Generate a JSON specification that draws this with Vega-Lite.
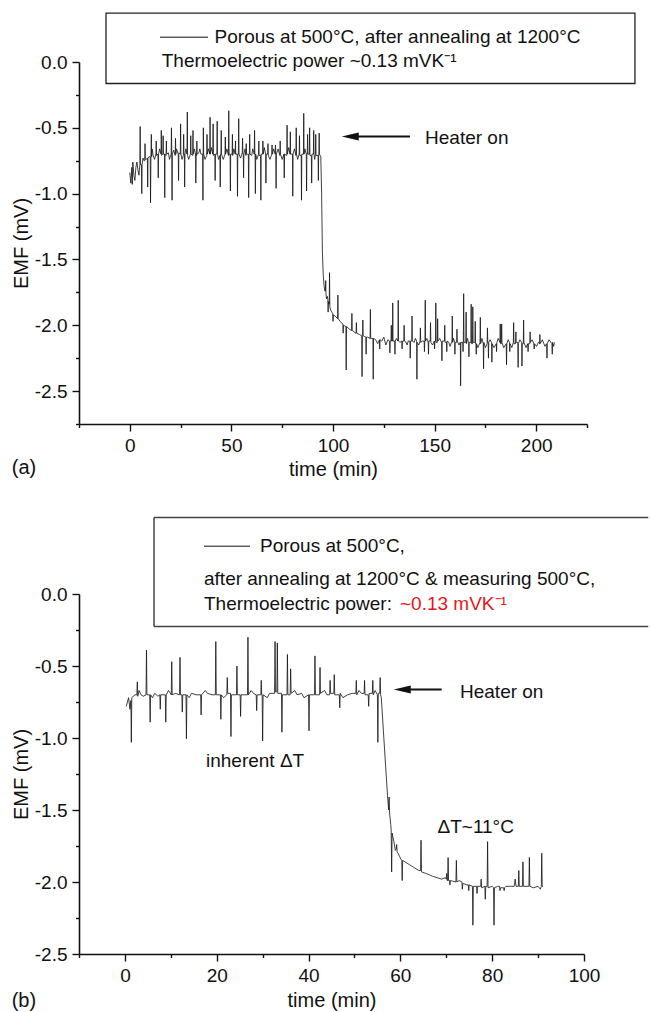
{
"$schema": "https://vega.github.io/schema/vega-lite/v6.json",
"background": "white",
"padding": {"left": 11, "top": 12, "right": 0, "bottom": 0},
"bounds": "flush",
"spacing": 170,
"config": {
  "view": {"stroke": null},
  "font": "Liberation Sans",
  "axis": {"grid": false, "domainColor": "#111", "domainWidth": 1.6, "tickColor": "#111", "tickWidth": 1.4,
           "labelFont": "Liberation Sans", "labelFontSize": 19, "labelColor": "#111", "labelOverlap": false,
           "titleFont": "Liberation Sans", "titleFontSize": 20, "titleFontWeight": "normal", "titleColor": "#111"},
  "text": {"font": "Liberation Sans", "fontSize": 19, "color": "#111", "align": "left", "baseline": "middle"}
},
"datasets": {
"a": [
{"t":0,"v":-0.84},{"t":0.5,"v":-0.92},{"t":1,"v":-0.80},{"t":1.2,"v":-0.93},{"t":1.5,"v":-0.76},{"t":2,"v":-0.86},{"t":2.5,"v":-0.90},{"t":3,"v":-0.80},{"t":3.5,"v":-0.76},{"t":4,"v":-0.82},{"t":4.5,"v":-0.86},{"t":4.95,"v":-0.78},{"t":5.1,"v":-0.49},{"t":5.25,"v":-0.78},{"t":5.75,"v":-0.78},{"t":5.9,"v":-1.00},{"t":6.05,"v":-0.78},{"t":6.5,"v":-0.73},{"t":7,"v":-0.75},{"t":7.35,"v":-0.75},{"t":7.5,"v":-0.62},{"t":7.65,"v":-0.74},{"t":8,"v":-0.74},{"t":8.65,"v":-0.73},{"t":8.8,"v":-0.95},{"t":8.95,"v":-0.73},{"t":9.5,"v":-0.72},{"t":10.05,"v":-0.72},{"t":10.2,"v":-1.07},{"t":10.4,"v":-0.72},{"t":10.6,"v":-0.55},{"t":10.75,"v":-0.72},{"t":11,"v":-0.66},{"t":11.5,"v":-0.71},{"t":12.2,"v":-0.74},{"t":12.85,"v":-0.70},{"t":13,"v":-0.60},{"t":13.15,"v":-0.71},{"t":13.85,"v":-0.70},{"t":14,"v":-0.88},{"t":14.15,"v":-0.70},{"t":14.7,"v":-0.66},{"t":15.35,"v":-0.70},{"t":15.5,"v":-0.52},{"t":15.65,"v":-0.71},{"t":16.25,"v":-0.70},{"t":16.4,"v":-0.56},{"t":16.55,"v":-0.70},{"t":17.05,"v":-0.70},{"t":17.2,"v":-1.03},{"t":17.35,"v":-0.70},{"t":17.85,"v":-0.71},{"t":18,"v":-0.60},{"t":18.15,"v":-0.70},{"t":19,"v":-0.69},{"t":19.5,"v":-0.74},{"t":20.35,"v":-0.70},{"t":20.5,"v":-0.50},{"t":20.65,"v":-0.70},{"t":20.8,"v":-1.05},{"t":20.95,"v":-0.70},{"t":21.6,"v":-0.67},{"t":22.35,"v":-0.71},{"t":22.5,"v":-0.58},{"t":22.65,"v":-0.70},{"t":23,"v":-0.66},{"t":23.85,"v":-0.70},{"t":24,"v":-0.90},{"t":24.15,"v":-0.69},{"t":24.85,"v":-0.70},{"t":25,"v":-0.47},{"t":25.15,"v":-0.70},{"t":25.7,"v":-0.74},{"t":26.35,"v":-0.71},{"t":26.5,"v":-0.55},{"t":26.65,"v":-0.70},{"t":26.85,"v":-0.70},{"t":27,"v":-0.95},{"t":27.15,"v":-0.70},{"t":27.6,"v":-0.66},{"t":28.15,"v":-0.70},{"t":28.3,"v":-0.38},{"t":28.45,"v":-0.71},{"t":29,"v":-0.74},{"t":29.85,"v":-0.70},{"t":30,"v":-0.56},{"t":30.15,"v":-0.70},{"t":30.95,"v":-0.71},{"t":31.1,"v":-0.52},{"t":31.25,"v":-0.70},{"t":31.8,"v":-0.66},{"t":32.35,"v":-0.70},{"t":32.5,"v":-0.92},{"t":32.65,"v":-0.70},{"t":32.85,"v":-0.71},{"t":33,"v":-0.60},{"t":33.15,"v":-0.70},{"t":34,"v":-0.69},{"t":34.5,"v":-0.66},{"t":35,"v":-0.70},{"t":35.85,"v":-0.70},{"t":36,"v":-1.05},{"t":36.1,"v":-0.70},{"t":36.2,"v":-0.50},{"t":36.35,"v":-0.70},{"t":37,"v":-0.74},{"t":37.85,"v":-0.71},{"t":38,"v":-0.55},{"t":38.15,"v":-0.70},{"t":38.7,"v":-0.66},{"t":39.35,"v":-0.70},{"t":39.5,"v":-0.42},{"t":39.65,"v":-0.70},{"t":40.2,"v":-0.65},{"t":40.85,"v":-0.70},{"t":41,"v":-0.47},{"t":41.15,"v":-0.71},{"t":41.85,"v":-0.70},{"t":42,"v":-0.90},{"t":42.15,"v":-0.70},{"t":42.85,"v":-0.70},{"t":43,"v":-0.45},{"t":43.15,"v":-0.70},{"t":43.7,"v":-0.74},{"t":44.35,"v":-0.71},{"t":44.5,"v":-0.95},{"t":44.65,"v":-0.70},{"t":44.85,"v":-0.70},{"t":45,"v":-0.52},{"t":45.15,"v":-0.70},{"t":46,"v":-0.74},{"t":46.85,"v":-0.70},{"t":47,"v":-0.57},{"t":47.15,"v":-0.70},{"t":47.8,"v":-0.66},{"t":48.55,"v":-0.71},{"t":48.7,"v":-0.37},{"t":48.85,"v":-0.70},{"t":49.35,"v":-0.70},{"t":49.5,"v":-0.98},{"t":49.65,"v":-0.70},{"t":50.35,"v":-0.70},{"t":50.5,"v":-0.55},{"t":50.65,"v":-0.71},{"t":51.2,"v":-0.66},{"t":51.85,"v":-0.70},{"t":52,"v":-0.60},{"t":52.15,"v":-0.70},{"t":52.85,"v":-0.70},{"t":53,"v":-1.02},{"t":53.15,"v":-0.70},{"t":53.45,"v":-0.70},{"t":53.6,"v":-0.43},{"t":53.75,"v":-0.70},{"t":54.5,"v":-0.73},{"t":55.35,"v":-0.69},{"t":55.5,"v":-0.58},{"t":55.65,"v":-0.70},{"t":55.85,"v":-0.70},{"t":56,"v":-0.88},{"t":56.15,"v":-0.70},{"t":56.7,"v":-0.66},{"t":57.15,"v":-0.71},{"t":57.3,"v":-0.62},{"t":57.45,"v":-0.70},{"t":58.35,"v":-0.70},{"t":58.5,"v":-1.03},{"t":58.65,"v":-0.70},{"t":58.85,"v":-0.70},{"t":59,"v":-0.55},{"t":59.15,"v":-0.70},{"t":60,"v":-0.71},{"t":60.5,"v":-0.66},{"t":61.25,"v":-0.70},{"t":61.4,"v":-0.52},{"t":61.55,"v":-0.70},{"t":61.65,"v":-0.70},{"t":61.8,"v":-1.00},{"t":61.95,"v":-0.70},{"t":62.5,"v":-0.74},{"t":63.35,"v":-0.70},{"t":63.5,"v":-0.60},{"t":63.65,"v":-0.71},{"t":64.35,"v":-0.71},{"t":64.5,"v":-1.05},{"t":64.65,"v":-0.70},{"t":65.35,"v":-0.70},{"t":65.5,"v":-0.60},{"t":65.65,"v":-0.70},{"t":66.2,"v":-0.65},{"t":66.85,"v":-0.70},{"t":67,"v":-0.92},{"t":67.15,"v":-0.70},{"t":67.85,"v":-0.70},{"t":68,"v":-0.62},{"t":68.15,"v":-0.71},{"t":69,"v":-0.74},{"t":69.85,"v":-0.70},{"t":70,"v":-0.63},{"t":70.15,"v":-0.70},{"t":70.8,"v":-0.66},{"t":71.55,"v":-0.70},{"t":71.7,"v":-0.63},{"t":71.85,"v":-0.70},{"t":72,"v":-0.96},{"t":72.15,"v":-0.70},{"t":73,"v":-0.66},{"t":73.85,"v":-0.71},{"t":74,"v":-0.60},{"t":74.15,"v":-0.70},{"t":75,"v":-0.74},{"t":75.85,"v":-0.70},{"t":76,"v":-0.88},{"t":76.15,"v":-0.70},{"t":77.25,"v":-0.71},{"t":77.4,"v":-0.48},{"t":77.55,"v":-0.70},{"t":78.2,"v":-0.65},{"t":78.85,"v":-0.70},{"t":79,"v":-0.53},{"t":79.15,"v":-0.70},{"t":80.05,"v":-0.70},{"t":80.2,"v":-1.02},{"t":80.35,"v":-0.70},{"t":81,"v":-0.66},{"t":81.75,"v":-0.71},{"t":81.9,"v":-0.50},{"t":82.05,"v":-0.70},{"t":82.6,"v":-0.74},{"t":83.35,"v":-0.70},{"t":83.5,"v":-0.56},{"t":83.65,"v":-0.71},{"t":84.35,"v":-0.71},{"t":84.5,"v":-1.05},{"t":84.65,"v":-0.70},{"t":85.45,"v":-0.70},{"t":85.6,"v":-0.39},{"t":85.75,"v":-0.70},{"t":86.2,"v":-0.66},{"t":86.85,"v":-0.70},{"t":87,"v":-0.98},{"t":87.15,"v":-0.70},{"t":87.35,"v":-0.70},{"t":87.5,"v":-0.55},{"t":87.65,"v":-0.70},{"t":88.35,"v":-0.70},{"t":88.5,"v":-0.50},{"t":88.65,"v":-0.71},{"t":89.35,"v":-0.71},{"t":89.5,"v":-0.92},{"t":89.65,"v":-0.70},{"t":90.35,"v":-0.70},{"t":90.5,"v":-0.52},{"t":90.65,"v":-0.70},{"t":91,"v":-0.74},{"t":91.35,"v":-0.70},{"t":91.5,"v":-0.55},{"t":91.65,"v":-0.71},{"t":92.65,"v":-0.71},{"t":92.8,"v":-0.90},{"t":92.95,"v":-0.70},{"t":93.05,"v":-0.70},{"t":93.2,"v":-0.54},{"t":93.35,"v":-0.70},{"t":94.0,"v":-0.72},{"t":94.4,"v":-1.00},{"t":94.8,"v":-1.45},{"t":95.2,"v":-1.62},{"t":95.6,"v":-1.70},{"t":96.0,"v":-1.74},{"t":96.25,"v":-1.74},{"t":96.4,"v":-1.66},{"t":96.55,"v":-1.76},{"t":96.8,"v":-1.80},{"t":97.2,"v":-1.78},{"t":97.45,"v":-1.80},{"t":97.6,"v":-1.90},{"t":97.75,"v":-1.82},{"t":98.15,"v":-1.84},{"t":98.3,"v":-1.60},{"t":98.45,"v":-1.86},{"t":99,"v":-1.89},{"t":99.85,"v":-1.91},{"t":100,"v":-1.97},{"t":100.15,"v":-1.92},{"t":101,"v":-1.93},{"t":102.25,"v":-1.95},{"t":102.4,"v":-1.77},{"t":102.55,"v":-1.95},{"t":103.5,"v":-1.97},{"t":104,"v":-1.98},{"t":104.85,"v":-1.99},{"t":105,"v":-2.06},{"t":105.15,"v":-2.00},{"t":106.35,"v":-2.01},{"t":106.5,"v":-2.34},{"t":106.65,"v":-2.01},{"t":107.5,"v":-2.02},{"t":108,"v":-2.03},{"t":109.15,"v":-2.04},{"t":109.3,"v":-1.91},{"t":109.45,"v":-2.04},{"t":110.5,"v":-2.05},{"t":111,"v":-2.06},{"t":111.35,"v":-2.06},{"t":111.5,"v":-1.98},{"t":111.65,"v":-2.06},{"t":113,"v":-2.07},{"t":114.15,"v":-2.08},{"t":114.3,"v":-2.39},{"t":114.45,"v":-2.08},{"t":114.55,"v":-2.08},{"t":114.7,"v":-1.96},{"t":114.85,"v":-2.08},{"t":116.15,"v":-2.09},{"t":116.3,"v":-2.22},{"t":116.45,"v":-2.09},{"t":117,"v":-2.09},{"t":118.25,"v":-2.10},{"t":118.4,"v":-1.88},{"t":118.55,"v":-2.10},{"t":119.65,"v":-2.10},{"t":119.8,"v":-2.41},{"t":119.95,"v":-2.10},{"t":121,"v":-2.11},{"t":122,"v":-2.14},{"t":122.85,"v":-2.11},{"t":123,"v":-2.18},{"t":123.15,"v":-2.11},{"t":124,"v":-2.12},{"t":125,"v":-2.09},{"t":126,"v":-2.15},{"t":127,"v":-2.11},{"t":127.85,"v":-2.12},{"t":128,"v":-2.21},{"t":128.15,"v":-2.12},{"t":128.55,"v":-2.12},{"t":128.7,"v":-2.00},{"t":128.85,"v":-2.12},{"t":129.25,"v":-2.12},{"t":129.4,"v":-1.83},{"t":129.55,"v":-2.12},{"t":130.35,"v":-2.12},{"t":130.5,"v":-2.22},{"t":130.65,"v":-2.12},{"t":131.2,"v":-2.10},{"t":131.95,"v":-2.12},{"t":132.1,"v":-1.81},{"t":132.25,"v":-2.12},{"t":133,"v":-2.13},{"t":133.85,"v":-2.12},{"t":134,"v":-2.18},{"t":134.15,"v":-2.12},{"t":134.85,"v":-2.12},{"t":135,"v":-2.00},{"t":135.15,"v":-2.12},{"t":136,"v":-2.13},{"t":136.5,"v":-2.15},{"t":137,"v":-2.12},{"t":137.85,"v":-2.12},{"t":138,"v":-2.25},{"t":138.15,"v":-2.12},{"t":138.75,"v":-2.12},{"t":138.9,"v":-1.93},{"t":139.05,"v":-2.12},{"t":140,"v":-2.13},{"t":140.5,"v":-2.10},{"t":141.15,"v":-2.12},{"t":141.3,"v":-2.41},{"t":141.45,"v":-2.13},{"t":142.2,"v":-2.15},{"t":142.85,"v":-2.12},{"t":143,"v":-2.02},{"t":143.15,"v":-2.13},{"t":144,"v":-2.12},{"t":144.85,"v":-2.12},{"t":145,"v":-2.20},{"t":145.15,"v":-2.12},{"t":145.25,"v":-2.12},{"t":145.4,"v":-1.81},{"t":145.55,"v":-2.12},{"t":146.2,"v":-2.10},{"t":146.85,"v":-2.13},{"t":147,"v":-2.22},{"t":147.15,"v":-2.12},{"t":147.85,"v":-2.12},{"t":148,"v":-1.98},{"t":148.15,"v":-2.13},{"t":149,"v":-2.15},{"t":149.85,"v":-2.12},{"t":150,"v":-2.18},{"t":150.15,"v":-2.12},{"t":150.45,"v":-2.12},{"t":150.6,"v":-1.83},{"t":150.75,"v":-2.13},{"t":151.35,"v":-2.13},{"t":151.5,"v":-1.95},{"t":151.65,"v":-2.12},{"t":152.5,"v":-2.10},{"t":153.45,"v":-2.13},{"t":153.6,"v":-2.27},{"t":153.75,"v":-2.12},{"t":154.85,"v":-2.12},{"t":155,"v":-2.00},{"t":155.15,"v":-2.13},{"t":155.85,"v":-2.13},{"t":156,"v":-2.20},{"t":156.15,"v":-2.12},{"t":157,"v":-2.13},{"t":157.6,"v":-2.16},{"t":158.55,"v":-2.12},{"t":158.7,"v":-1.93},{"t":158.85,"v":-2.13},{"t":159.3,"v":-2.10},{"t":159.85,"v":-2.13},{"t":160,"v":-2.22},{"t":160.15,"v":-2.13},{"t":160.85,"v":-2.13},{"t":161,"v":-2.03},{"t":161.15,"v":-2.12},{"t":162,"v":-2.15},{"t":162.65,"v":-2.13},{"t":162.8,"v":-2.46},{"t":162.95,"v":-2.13},{"t":163.85,"v":-2.13},{"t":164,"v":-2.20},{"t":164.15,"v":-2.13},{"t":164.3,"v":-1.76},{"t":164.45,"v":-2.13},{"t":165.35,"v":-2.13},{"t":165.5,"v":-1.90},{"t":165.65,"v":-2.14},{"t":166.2,"v":-2.10},{"t":166.75,"v":-2.14},{"t":166.9,"v":-2.24},{"t":167.05,"v":-2.13},{"t":167.85,"v":-2.13},{"t":168,"v":-1.84},{"t":168.15,"v":-2.14},{"t":168.65,"v":-2.14},{"t":168.8,"v":-1.86},{"t":168.95,"v":-2.13},{"t":169.85,"v":-2.13},{"t":170,"v":-1.97},{"t":170.15,"v":-2.14},{"t":170.35,"v":-2.14},{"t":170.5,"v":-2.22},{"t":170.65,"v":-2.14},{"t":171.3,"v":-2.17},{"t":172.35,"v":-2.13},{"t":172.5,"v":-1.94},{"t":172.65,"v":-2.14},{"t":173.3,"v":-2.10},{"t":173.95,"v":-2.14},{"t":174.1,"v":-2.33},{"t":174.25,"v":-2.13},{"t":175,"v":-2.17},{"t":175.85,"v":-2.14},{"t":176,"v":-2.02},{"t":176.15,"v":-2.13},{"t":176.35,"v":-2.13},{"t":176.5,"v":-2.25},{"t":176.65,"v":-2.13},{"t":177.3,"v":-2.11},{"t":178.05,"v":-2.13},{"t":178.2,"v":-2.28},{"t":178.35,"v":-2.14},{"t":179.2,"v":-2.17},{"t":180.35,"v":-2.14},{"t":180.5,"v":-2.20},{"t":180.65,"v":-2.13},{"t":181.3,"v":-2.10},{"t":182.15,"v":-2.13},{"t":182.3,"v":-1.99},{"t":182.45,"v":-2.14},{"t":182.85,"v":-2.14},{"t":183,"v":-1.99},{"t":183.15,"v":-2.13},{"t":184,"v":-2.17},{"t":185.25,"v":-2.14},{"t":185.4,"v":-2.30},{"t":185.55,"v":-2.14},{"t":186.2,"v":-2.11},{"t":186.85,"v":-2.13},{"t":187,"v":-2.20},{"t":187.15,"v":-2.14},{"t":188,"v":-2.17},{"t":188.75,"v":-2.13},{"t":188.9,"v":-1.98},{"t":189.05,"v":-2.14},{"t":189.85,"v":-2.14},{"t":190,"v":-2.05},{"t":190.15,"v":-2.13},{"t":190.95,"v":-2.13},{"t":191.1,"v":-2.32},{"t":191.25,"v":-2.14},{"t":192,"v":-2.11},{"t":192.85,"v":-2.13},{"t":193,"v":-2.31},{"t":193.15,"v":-2.14},{"t":193.65,"v":-2.14},{"t":193.8,"v":-1.96},{"t":193.95,"v":-2.13},{"t":195,"v":-2.17},{"t":195.85,"v":-2.14},{"t":196,"v":-2.20},{"t":196.15,"v":-2.14},{"t":196.85,"v":-2.14},{"t":197,"v":-2.05},{"t":197.15,"v":-2.13},{"t":198,"v":-2.11},{"t":198.85,"v":-2.14},{"t":199,"v":-2.18},{"t":199.15,"v":-2.14},{"t":200.2,"v":-2.16},{"t":201,"v":-2.13},{"t":201.65,"v":-2.14},{"t":201.8,"v":-2.07},{"t":201.95,"v":-2.14},{"t":203,"v":-2.11},{"t":204.3,"v":-2.16},{"t":205.15,"v":-2.14},{"t":205.3,"v":-2.25},{"t":205.45,"v":-2.14},{"t":206.3,"v":-2.11},{"t":207.75,"v":-2.14},{"t":207.9,"v":-2.22},{"t":208.05,"v":-2.13},{"t":208.6,"v":-2.16},{"t":209,"v":-2.13}
],
"b": [
{"t":0.3,"v":-0.78},{"t":0.8,"v":-0.72},{"t":1.1,"v":-0.80},{"t":1.3,"v":-0.74},{"t":1.4,"v":-1.03},{"t":1.5,"v":-0.72},{"t":2.2,"v":-0.70},{"t":2.6,"v":-0.70},{"t":2.7,"v":-0.61},{"t":2.8,"v":-0.71},{"t":3.1,"v":-0.67},{"t":3.5,"v":-0.70},{"t":4,"v":-0.71},{"t":4.6,"v":-0.70},{"t":4.7,"v":-0.39},{"t":4.8,"v":-0.70},{"t":5.4,"v":-0.70},{"t":5.5,"v":-0.89},{"t":5.6,"v":-0.70},{"t":6.0,"v":-0.72},{"t":6.5,"v":-0.69},{"t":7.2,"v":-0.71},{"t":7.6,"v":-0.70},{"t":7.7,"v":-0.80},{"t":7.8,"v":-0.70},{"t":8.8,"v":-0.70},{"t":8.9,"v":-0.89},{"t":9.0,"v":-0.70},{"t":9.5,"v":-0.67},{"t":10.1,"v":-0.70},{"t":10.2,"v":-0.47},{"t":10.3,"v":-0.70},{"t":11,"v":-0.69},{"t":11.9,"v":-0.70},{"t":12,"v":-0.44},{"t":12.1,"v":-0.70},{"t":12.4,"v":-0.70},{"t":12.5,"v":-0.82},{"t":12.6,"v":-0.70},{"t":13.3,"v":-0.70},{"t":13.4,"v":-1.005},{"t":13.5,"v":-0.70},{"t":14,"v":-0.72},{"t":14.5,"v":-0.69},{"t":15.5,"v":-0.70},{"t":16.5,"v":-0.70},{"t":16.6,"v":-0.84},{"t":16.7,"v":-0.70},{"t":17.5,"v":-0.67},{"t":18,"v":-0.69},{"t":19,"v":-0.70},{"t":19.7,"v":-0.70},{"t":19.8,"v":-0.33},{"t":19.9,"v":-0.70},{"t":20.8,"v":-0.70},{"t":20.9,"v":-0.87},{"t":21.0,"v":-0.70},{"t":21.5,"v":-0.72},{"t":22.2,"v":-0.70},{"t":22.3,"v":-0.58},{"t":22.4,"v":-0.69},{"t":23.0,"v":-0.69},{"t":23.1,"v":-0.99},{"t":23.2,"v":-0.70},{"t":24.3,"v":-0.70},{"t":24.4,"v":-0.50},{"t":24.5,"v":-0.70},{"t":25.1,"v":-0.70},{"t":25.2,"v":-0.85},{"t":25.3,"v":-0.70},{"t":26.7,"v":-0.70},{"t":26.8,"v":-0.30},{"t":26.9,"v":-0.70},{"t":27.5,"v":-0.67},{"t":28,"v":-0.69},{"t":28.6,"v":-0.70},{"t":28.7,"v":-0.81},{"t":28.8,"v":-0.70},{"t":29.6,"v":-0.70},{"t":29.7,"v":-0.60},{"t":29.8,"v":-0.70},{"t":29.9,"v":-0.70},{"t":30.0,"v":-1.02},{"t":30.1,"v":-0.70},{"t":31,"v":-0.72},{"t":31.5,"v":-0.69},{"t":32.6,"v":-0.69},{"t":32.7,"v":-0.33},{"t":32.8,"v":-0.68},{"t":32.95,"v":-0.68},{"t":33.1,"v":-0.68},{"t":33.2,"v":-0.34},{"t":33.3,"v":-0.69},{"t":34.1,"v":-0.69},{"t":34.2,"v":-0.96},{"t":34.3,"v":-0.70},{"t":35.3,"v":-0.70},{"t":35.4,"v":-0.42},{"t":35.5,"v":-0.70},{"t":36.0,"v":-0.70},{"t":36.1,"v":-0.52},{"t":36.2,"v":-0.69},{"t":37,"v":-0.67},{"t":37.5,"v":-0.70},{"t":38.5,"v":-0.69},{"t":39,"v":-0.72},{"t":40.0,"v":-0.70},{"t":40.1,"v":-0.95},{"t":40.2,"v":-0.70},{"t":41.3,"v":-0.70},{"t":41.4,"v":-0.43},{"t":41.5,"v":-0.70},{"t":42.4,"v":-0.70},{"t":42.5,"v":-0.51},{"t":42.6,"v":-0.69},{"t":43.5,"v":-0.67},{"t":44,"v":-0.70},{"t":44.6,"v":-0.70},{"t":44.7,"v":-0.60},{"t":44.8,"v":-0.69},{"t":45.5,"v":-0.69},{"t":45.6,"v":-0.56},{"t":45.7,"v":-0.70},{"t":46.7,"v":-0.70},{"t":46.8,"v":-0.79},{"t":46.9,"v":-0.69},{"t":47.5,"v":-0.72},{"t":48.5,"v":-0.70},{"t":49.5,"v":-0.69},{"t":50.3,"v":-0.69},{"t":50.4,"v":-0.60},{"t":50.5,"v":-0.70},{"t":51,"v":-0.67},{"t":51.5,"v":-0.69},{"t":52.1,"v":-0.69},{"t":52.2,"v":-0.60},{"t":52.3,"v":-0.70},{"t":53.0,"v":-0.70},{"t":53.1,"v":-0.78},{"t":53.2,"v":-0.69},{"t":53.9,"v":-0.69},{"t":54.0,"v":-0.60},{"t":54.1,"v":-0.70},{"t":54.5,"v":-0.67},{"t":55.0,"v":-0.70},{"t":55.1,"v":-1.03},{"t":55.2,"v":-0.69},{"t":55.5,"v":-0.69},{"t":55.6,"v":-0.58},{"t":55.7,"v":-0.70},{"t":55.85,"v":-0.72},{"t":56.3,"v":-0.95},{"t":56.8,"v":-1.20},{"t":57.2,"v":-1.40},{"t":57.45,"v":-1.50},{"t":57.55,"v":-1.41},{"t":57.65,"v":-1.52},{"t":57.9,"v":-1.60},{"t":58.0,"v":-1.64},{"t":58.1,"v":-1.93},{"t":58.2,"v":-1.66},{"t":58.6,"v":-1.72},{"t":58.9,"v":-1.78},{"t":59.1,"v":-1.77},{"t":59.2,"v":-1.74},{"t":59.3,"v":-1.79},{"t":59.5,"v":-1.80},{"t":59.8,"v":-1.82},{"t":60.1,"v":-1.84},{"t":60.3,"v":-1.85},{"t":60.4,"v":-1.99},{"t":60.5,"v":-1.85},{"t":61,"v":-1.86},{"t":62,"v":-1.88},{"t":63,"v":-1.90},{"t":64,"v":-1.92},{"t":64.4,"v":-1.92},{"t":64.5,"v":-1.71},{"t":64.6,"v":-1.93},{"t":65.5,"v":-1.94},{"t":66.3,"v":-1.95},{"t":67,"v":-1.96},{"t":68,"v":-1.97},{"t":69,"v":-1.98},{"t":69.8,"v":-1.97},{"t":70.0,"v":-1.98},{"t":70.1,"v":-1.94},{"t":70.2,"v":-1.99},{"t":70.3,"v":-1.99},{"t":70.4,"v":-1.83},{"t":70.5,"v":-1.99},{"t":70.7,"v":-1.99},{"t":70.8,"v":-2.02},{"t":70.9,"v":-1.99},{"t":72.1,"v":-2.00},{"t":72.2,"v":-1.85},{"t":72.3,"v":-2.00},{"t":72.8,"v":-1.99},{"t":73.4,"v":-2.00},{"t":73.5,"v":-2.05},{"t":73.6,"v":-2.01},{"t":74.5,"v":-2.02},{"t":74.8,"v":-2.02},{"t":74.9,"v":-2.06},{"t":75.0,"v":-2.02},{"t":75.7,"v":-2.03},{"t":75.8,"v":-2.30},{"t":75.9,"v":-2.03},{"t":76.6,"v":-2.03},{"t":76.7,"v":-2.08},{"t":76.8,"v":-2.03},{"t":77.5,"v":-2.03},{"t":77.6,"v":-1.98},{"t":77.7,"v":-2.04},{"t":78.4,"v":-2.03},{"t":78.5,"v":-2.12},{"t":78.6,"v":-2.03},{"t":78.9,"v":-2.03},{"t":79.0,"v":-1.72},{"t":79.1,"v":-2.04},{"t":80.0,"v":-2.03},{"t":80.3,"v":-2.04},{"t":80.4,"v":-2.30},{"t":80.5,"v":-2.04},{"t":81.2,"v":-2.03},{"t":81.6,"v":-2.03},{"t":81.7,"v":-2.06},{"t":81.8,"v":-2.04},{"t":82.5,"v":-2.04},{"t":82.6,"v":-2.06},{"t":82.7,"v":-2.04},{"t":83,"v":-2.03},{"t":84,"v":-2.03},{"t":84.8,"v":-2.03},{"t":85,"v":-1.98},{"t":85.2,"v":-2.03},{"t":85.7,"v":-2.03},{"t":85.8,"v":-1.92},{"t":85.9,"v":-2.03},{"t":86.6,"v":-2.03},{"t":86.7,"v":-1.86},{"t":86.8,"v":-2.03},{"t":88.0,"v":-2.03},{"t":88.1,"v":-1.83},{"t":88.2,"v":-2.03},{"t":89,"v":-2.04},{"t":90,"v":-2.03},{"t":90.5,"v":-2.05},{"t":90.7,"v":-2.03},{"t":90.8,"v":-1.80},{"t":90.9,"v":-2.03},{"t":91.1,"v":-2.03}
]
},
"vconcat": [
{
  "width": 508, "height": 362,
  "resolve": {"axis": {"x": "independent", "y": "independent"}},
  "layer": [
    {"data": {"name": "a"},
     "mark": {"type": "line", "color": "#111", "strokeWidth": 0.8},
     "encoding": {
       "x": {"field": "t", "type": "quantitative", "scale": {"domain": [-25, 225], "nice": false, "zero": false},
             "axis": {"orient": "bottom", "values": [0, 50, 100, 150, 200], "title": "time (min)", "tickSize": 7, "labelPadding": 5, "titleY": 45.5, "titleBaseline": "middle", "labelFlush": false}},
       "y": {"field": "v", "type": "quantitative", "scale": {"domain": [-2.75, 0], "nice": false, "zero": false},
             "axis": {"orient": "left", "values": [-2.5, -2, -1.5, -1, -0.5, 0], "title": "EMF (mV)", "tickSize": 7, "labelPadding": 5,
                      "labelExpr": "(datum.value < 0 ? '-' : '') + format(abs(datum.value), '.1f')", "titleX": -58, "titleBaseline": "middle"}}
     }},
    {"data": {"values": [{}]},
     "mark": {"type": "rect", "fill": "white", "fillOpacity": 0, "stroke": "#222", "strokeWidth": 1.3},
     "encoding": {
       "x": {"datum": -11.71, "type": "quantitative",
             "axis": {"orient": "bottom", "values": [-25, 25, 75, 125, 175, 225], "labels": false, "domain": false, "tickSize": 3.5, "title": null}},
       "x2": {"datum": 248.6},
       "y": {"datum": 0.3707, "type": "quantitative",
             "axis": {"orient": "left", "values": [-2.75, -2.25, -1.75, -1.25, -0.75, -0.25], "labels": false, "domain": false, "tickSize": 3.5, "title": null}},
       "y2": {"datum": -0.1633}
     }},
    {"data": {"values": [{}]},
     "mark": {"type": "rule", "color": "#111", "strokeWidth": 1},
     "encoding": {"x": {"datum": 14.86, "type": "quantitative", "axis": null}, "x2": {"datum": 38.48}, "y": {"datum": 0.1884, "type": "quantitative", "axis": null}}},
    {"data": {"values": [{}]},
     "mark": {"type": "text", "text": "Porous at 500°C, after annealing at 1200°C"},
     "encoding": {"x": {"datum": 41.73, "type": "quantitative", "axis": null}, "y": {"datum": 0.188, "type": "quantitative", "axis": null}}},
    {"data": {"values": [{}]},
     "mark": {"type": "text", "text": "Thermoelectric power ~0.13 mVK⁻¹"},
     "encoding": {"x": {"datum": 15.7, "type": "quantitative", "axis": null}, "y": {"datum": 0.006, "type": "quantitative", "axis": null}}},
    {"data": {"values": [{}]},
     "mark": {"type": "rule", "color": "#111", "strokeWidth": 2},
     "encoding": {"x": {"datum": 108.5, "type": "quantitative", "axis": null}, "x2": {"datum": 137.9}, "y": {"datum": -0.566, "type": "quantitative", "axis": null}}},
    {"data": {"values": [{}]},
     "mark": {"type": "point", "shape": "M-1,0L1,-0.47L1,0.47Z", "size": 289, "filled": true, "color": "#111", "opacity": 1},
     "encoding": {"x": {"datum": 108.5, "type": "quantitative", "axis": null}, "y": {"datum": -0.566, "type": "quantitative", "axis": null}}},
    {"data": {"values": [{}]},
     "mark": {"type": "text", "text": "Heater on"},
     "encoding": {"x": {"datum": 145.3, "type": "quantitative", "axis": null}, "y": {"datum": -0.579, "type": "quantitative", "axis": null}}},
    {"data": {"values": [{}]},
     "mark": {"type": "text", "text": "(a)", "fontSize": 20},
     "encoding": {"x": {"datum": -58.1, "type": "quantitative", "axis": null}, "y": {"datum": -3.088, "type": "quantitative", "axis": null}}}
  ]
},
{
  "width": 505, "height": 360,
  "resolve": {"axis": {"x": "independent", "y": "independent"}},
  "layer": [
    {"data": {"name": "b"},
     "mark": {"type": "line", "color": "#111", "strokeWidth": 0.8},
     "encoding": {
       "x": {"field": "t", "type": "quantitative", "scale": {"domain": [-10, 100], "nice": false, "zero": false},
             "axis": {"orient": "bottom", "values": [0, 20, 40, 60, 80, 100], "title": "time (min)", "tickSize": 7, "labelPadding": 5, "titleY": 46.5, "titleBaseline": "middle", "labelFlush": false}},
       "y": {"field": "v", "type": "quantitative", "scale": {"domain": [-2.5, 0], "nice": false, "zero": false},
             "axis": {"orient": "left", "values": [-2.5, -2, -1.5, -1, -0.5, 0], "title": "EMF (mV)", "tickSize": 7, "labelPadding": 5,
                      "labelExpr": "(datum.value < 0 ? '-' : '') + format(abs(datum.value), '.1f')", "titleX": -58, "titleBaseline": "middle"}}
     }},
    {"data": {"values": [{}]},
     "mark": {"type": "rule", "color": "#444", "strokeWidth": 1.5},
     "encoding": {
       "x": {"datum": 6.34, "type": "quantitative",
             "axis": {"orient": "bottom", "values": [-10, 10, 30, 50, 70, 90], "labels": false, "domain": false, "tickSize": 3.5, "title": null}},
       "x2": {"datum": 114.0},
       "y": {"datum": 0.531, "type": "quantitative",
             "axis": {"orient": "left", "values": [-2.25, -1.75, -1.25, -0.75, -0.25], "labels": false, "domain": false, "tickSize": 3.5, "title": null}}
     }},
    {"data": {"values": [{}]},
     "mark": {"type": "rule", "color": "#444", "strokeWidth": 1.5},
     "encoding": {"x": {"datum": 6.34, "type": "quantitative", "axis": null}, "x2": {"datum": 114.0}, "y": {"datum": -0.2257, "type": "quantitative", "axis": null}}},
    {"data": {"values": [{}]},
     "mark": {"type": "rule", "color": "#444", "strokeWidth": 1.5},
     "encoding": {"x": {"datum": 6.34, "type": "quantitative", "axis": null}, "y": {"datum": 0.531, "type": "quantitative", "axis": null}, "y2": {"datum": -0.2257}}},
    {"data": {"values": [{}]},
     "mark": {"type": "rule", "color": "#111", "strokeWidth": 1},
     "encoding": {"x": {"datum": 17.23, "type": "quantitative", "axis": null}, "x2": {"datum": 27.25}, "y": {"datum": 0.332, "type": "quantitative", "axis": null}}},
    {"data": {"values": [{}]},
     "mark": {"type": "text", "text": "Porous at 500°C,"},
     "encoding": {"x": {"datum": 29.42, "type": "quantitative", "axis": null}, "y": {"datum": 0.332, "type": "quantitative", "axis": null}}},
    {"data": {"values": [{}]},
     "mark": {"type": "text", "text": "after annealing at 1200°C & measuring 500°C,"},
     "encoding": {"x": {"datum": 17.23, "type": "quantitative", "axis": null}, "y": {"datum": 0.1007, "type": "quantitative", "axis": null}}},
    {"data": {"values": [{}]},
     "mark": {"type": "text", "text": "Thermoelectric power:"},
     "encoding": {"x": {"datum": 17.23, "type": "quantitative", "axis": null}, "y": {"datum": -0.0729, "type": "quantitative", "axis": null}}},
    {"data": {"values": [{}]},
     "mark": {"type": "text", "text": "~0.13 mVK⁻¹", "color": "#e8161c"},
     "encoding": {"x": {"datum": 59.92, "type": "quantitative", "axis": null}, "y": {"datum": -0.0729, "type": "quantitative", "axis": null}}},
    {"data": {"values": [{}]},
     "mark": {"type": "rule", "color": "#111", "strokeWidth": 2},
     "encoding": {"x": {"datum": 60.41, "type": "quantitative", "axis": null}, "x2": {"datum": 69.0}, "y": {"datum": -0.663, "type": "quantitative", "axis": null}}},
    {"data": {"values": [{}]},
     "mark": {"type": "point", "shape": "M-1,0L1,-0.47L1,0.47Z", "size": 289, "filled": true, "color": "#111", "opacity": 1},
     "encoding": {"x": {"datum": 60.41, "type": "quantitative", "axis": null}, "y": {"datum": -0.663, "type": "quantitative", "axis": null}}},
    {"data": {"values": [{}]},
     "mark": {"type": "text", "text": "Heater on"},
     "encoding": {"x": {"datum": 72.99, "type": "quantitative", "axis": null}, "y": {"datum": -0.684, "type": "quantitative", "axis": null}}},
    {"data": {"values": [{}]},
     "mark": {"type": "text", "text": "inherent ΔT"},
     "encoding": {"x": {"datum": 17.66, "type": "quantitative", "axis": null}, "y": {"datum": -1.163, "type": "quantitative", "axis": null}}},
    {"data": {"values": [{}]},
     "mark": {"type": "text", "text": "ΔT~11°C"},
     "encoding": {"x": {"datum": 68.09, "type": "quantitative", "axis": null}, "y": {"datum": -1.615, "type": "quantitative", "axis": null}}},
    {"data": {"values": [{}]},
     "mark": {"type": "text", "text": "(b)", "fontSize": 20},
     "encoding": {"x": {"datum": -24.66, "type": "quantitative", "axis": null}, "y": {"datum": -2.823, "type": "quantitative", "axis": null}}}
  ]
}
]
}
